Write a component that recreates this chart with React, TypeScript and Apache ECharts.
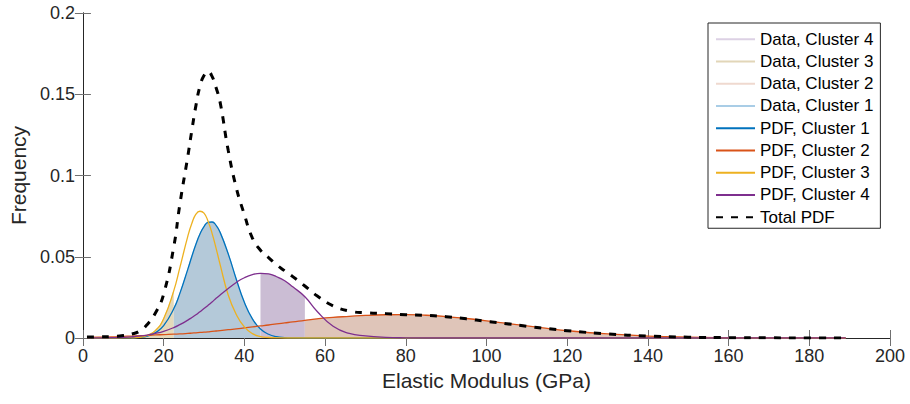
import React, { useEffect, useRef } from "react";
import * as echarts from "echarts";

// Elastic modulus grid (GPa)
const X = [1, 4, 7, 10, 12, 14, 16, 18, 20, 22.5, 24, 26, 27, 28, 29, 30, 31, 32, 33, 34, 36, 38, 40, 42, 44, 46, 48, 50, 52, 55, 58, 62, 66, 70, 75, 80, 85, 90, 95, 100, 105, 110, 115, 120, 130, 140, 150, 160, 170, 180, 189];

// PDF values
const PDF1 = [0, 0, 0, 0.00003, 0.00012, 0.0004, 0.0012, 0.0033, 0.0076, 0.018, 0.0273, 0.0424, 0.0503, 0.0577, 0.064, 0.0686, 0.0712, 0.0714, 0.0693, 0.065, 0.0518, 0.0362, 0.022, 0.0118, 0.0055, 0.0023, 0.0008, 0.00026, 0.00007, 0.00001, 0, 0, 0, 0, 0, 0, 0, 0, 0, 0, 0, 0, 0, 0, 0, 0, 0, 0, 0, 0, 0];
const PDF2 = [0.0004, 0.0005, 0.0007, 0.001, 0.0012, 0.0014, 0.0016, 0.0019, 0.0021, 0.0024, 0.0025, 0.0028, 0.003, 0.0032, 0.0034, 0.0036, 0.0038, 0.0041, 0.0043, 0.0045, 0.0051, 0.0056, 0.0062, 0.0068, 0.0074, 0.008, 0.0087, 0.0093, 0.0099, 0.0109, 0.0118, 0.0127, 0.0133, 0.0139, 0.0143, 0.0144, 0.014, 0.0132, 0.012, 0.0106, 0.009, 0.0074, 0.0059, 0.0045, 0.0025, 0.0012, 0.0005, 0.0002, 0.00006, 0.00002, 0];
const PDF3 = [0, 0, 0, 0.00002, 0.0001, 0.00044, 0.0016, 0.0047, 0.0119, 0.029, 0.0431, 0.0627, 0.0706, 0.0762, 0.078, 0.0768, 0.0719, 0.0644, 0.0552, 0.0452, 0.0265, 0.0145, 0.0068, 0.0027, 0.0009, 0.0003, 0.0001, 0, 0, 0, 0, 0, 0, 0, 0, 0, 0, 0, 0, 0, 0, 0, 0, 0, 0, 0, 0, 0, 0, 0, 0];
const PDF4 = [0.00003, 0.00008, 0.00019, 0.00043, 0.00072, 0.00117, 0.00183, 0.0028, 0.0041, 0.0064, 0.0082, 0.011, 0.0126, 0.0143, 0.0162, 0.0181, 0.0201, 0.0222, 0.0244, 0.0265, 0.0305, 0.0342, 0.0371, 0.039, 0.0398, 0.0394, 0.0377, 0.0352, 0.0315, 0.0254, 0.0165, 0.0072, 0.0028, 0.0013, 0.0004, 0.0001, 0, 0, 0, 0, 0, 0, 0, 0, 0, 0, 0, 0, 0, 0, 0];
const TOTAL = [0.0006, 0.0007, 0.0009, 0.0015, 0.0024, 0.0042, 0.0085, 0.0155, 0.027, 0.056, 0.082, 0.112, 0.128, 0.143, 0.155, 0.1615, 0.164, 0.161, 0.154, 0.145, 0.1155, 0.0925, 0.076, 0.0615, 0.054, 0.0495, 0.045, 0.0414, 0.0378, 0.032, 0.026, 0.0198, 0.0166, 0.0155, 0.015, 0.0143, 0.0139, 0.0131, 0.0118, 0.0102, 0.0088, 0.0072, 0.0058, 0.0045, 0.0025, 0.0012, 0.0005, 0.0002, 0.0001, 0.00003, 0];

// Data ranges of each cluster (GPa)
const RANGE1 = [22.5, 44];
const RANGE2 = [55, 140];
const RANGE3 = [12, 22.5];
const RANGE4 = [44, 55];

const X_TICKS = { min: 0, max: 200, interval: 20 };
const Y_TICKS = { min: 0, max: 0.2, interval: 0.05 };

const FONT = "'Liberation Sans', Arial, Helvetica, sans-serif";
const AX = "#262626";

function pts(arr: number[]) {
  return X.map((x, i) => [x, arr[i]]);
}
function sub(arr: number[], r: number[]) {
  return X.map((x, i) => [x, arr[i]]).filter((p) => p[0] >= r[0] - 1e-9 && p[0] <= r[1] + 1e-9);
}

export default function App() {
  const ref = useRef<HTMLDivElement>(null);
  useEffect(() => {
    if (!ref.current) return;
    const chart = echarts.init(ref.current, null, { renderer: "svg" });
    const pdfLine = (name: string, arr: number[], color: string) => ({
      name,
      type: "line",
      data: pts(arr),
      smooth: true,
      symbol: "none",
      color,
      lineStyle: { color, width: 1.3 },
      xAxisIndex: 0,
      yAxisIndex: 0,
    });
    const fill = (name: string, arr: number[], r: number[], fillColor: string, legendColor: string) => ({
      name,
      type: "line",
      data: sub(arr, r),
      smooth: true,
      symbol: "none",
      color: legendColor,
      lineStyle: { color: legendColor, width: 1 },
      areaStyle: { color: fillColor, opacity: 1 },
      xAxisIndex: 0,
      yAxisIndex: 0,
    });
    const axisCommon = {
      axisLine: { show: true, lineStyle: { color: AX, width: 1 } },
      axisTick: { show: true, inside: true, length: 8, lineStyle: { color: "#707070", width: 1 } },
      splitLine: { show: false },
    };
    chart.setOption({
      animation: false,
      backgroundColor: "#ffffff",
      grid: { left: 82, right: 20, top: 13, bottom: 66, containLabel: false },
      xAxis: [
        {
          type: "value",
          position: "bottom",
          ...X_TICKS,
          ...axisCommon,
          axisLabel: { fontSize: 18, color: AX, margin: 9, fontFamily: FONT },
          name: "Elastic Modulus (GPa)",
          nameLocation: "middle",
          nameGap: 32,
          nameTextStyle: { fontSize: 21, color: AX, fontFamily: FONT },
        },
        {
          type: "value",
          position: "top",
          ...X_TICKS,
          ...axisCommon,
          axisLabel: { show: false },
        },
      ],
      yAxis: [
        {
          type: "value",
          position: "left",
          ...Y_TICKS,
          ...axisCommon,
          axisLabel: {
            fontSize: 18,
            color: AX,
            margin: 8,
            fontFamily: FONT,
            formatter: (v: number) => String(Math.round(v * 100) / 100),
          },
          name: "Frequency",
          nameLocation: "middle",
          nameGap: 50,
          nameTextStyle: { fontSize: 21, color: AX, fontFamily: FONT },
        },
        {
          type: "value",
          position: "right",
          ...Y_TICKS,
          ...axisCommon,
          axisLabel: { show: false },
        },
      ],
      legend: {
        orient: "vertical",
        left: 708,
        top: 23,
        padding: [6, 7, 1, 7],
        itemWidth: 39,
        itemHeight: 2,
        itemGap: 2,
        itemStyle: { opacity: 0 },
        backgroundColor: "#ffffff",
        borderColor: AX,
        borderWidth: 1,
        borderRadius: 0,
        textStyle: { fontSize: 17, color: "#000", lineHeight: 20.25, fontFamily: FONT },
        data: [
          "Data, Cluster 4",
          "Data, Cluster 3",
          "Data, Cluster 2",
          "Data, Cluster 1",
          "PDF, Cluster 1",
          "PDF, Cluster 2",
          "PDF, Cluster 3",
          "PDF, Cluster 4",
          "Total PDF",
        ],
      },
      series: [
        fill("Data, Cluster 4", PDF4, RANGE4, "#cbbdd4", "#dcd1e4"),
        fill("Data, Cluster 3", PDF3, RANGE3, "#e4d9ba", "#e2d6b8"),
        fill("Data, Cluster 2", PDF2, RANGE2, "#dfc5b9", "#efd9cf"),
        fill("Data, Cluster 1", PDF1, RANGE1, "#b4c9d9", "#a9cde6"),
        pdfLine("PDF, Cluster 1", PDF1, "#0072BD"),
        pdfLine("PDF, Cluster 2", PDF2, "#D95319"),
        pdfLine("PDF, Cluster 3", PDF3, "#EDB120"),
        pdfLine("PDF, Cluster 4", PDF4, "#7E2F8E"),
        {
          name: "Total PDF",
          type: "line",
          data: pts(TOTAL),
          smooth: true,
          symbol: "none",
          color: "#000000",
          lineStyle: { color: "#000000", width: 3, type: [7, 8], cap: "butt" },
          xAxisIndex: 0,
          yAxisIndex: 0,
        },
      ],
    });
    return () => chart.dispose();
  }, []);
  return (
    <div
      ref={ref}
      style={{ position: "fixed", left: 0, top: 0, width: 910, height: 404, background: "#fff" }}
    />
  );
}
